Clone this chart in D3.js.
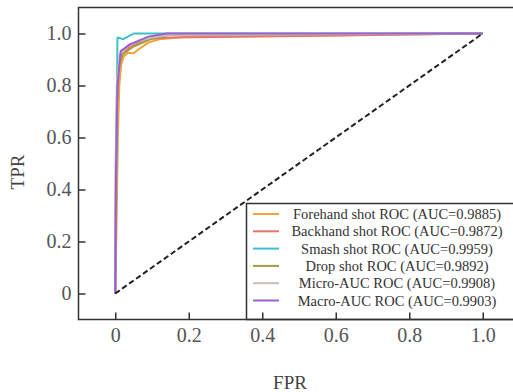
<!DOCTYPE html>
<html>
<head>
<meta charset="utf-8">
<script src="https://cdn.jsdelivr.net/npm/d3@7"></script>
<style>
  body { margin: 0; background: #fff; }
  svg { display: block; font-family: "Liberation Serif", "DejaVu Serif", serif; }
</style>
</head>
<body>
<div id="chart"></div>
<script>
// ROC curves, one per shot class plus micro / macro averages
const seriesNames = [
  'Forehand shot ROC (AUC=0.9885)',
  'Backhand shot ROC (AUC=0.9872)',
  'Smash shot ROC (AUC=0.9959)',
  'Drop shot ROC (AUC=0.9892)',
  'Micro-AUC ROC (AUC=0.9908)',
  'Macro-AUC ROC (AUC=0.9903)'
];
const seriesColors = ['#eea43a', '#e8756c', '#3fc0c9', '#a59c3e', '#cbbdba', '#9a5fd2'];

// [FPR, TPR] pairs
const forehand = [[0, 0], [0.004, 0.3], [0.007, 0.6], [0.011, 0.8], [0.016, 0.88], [0.023, 0.912],
  [0.035, 0.926], [0.05, 0.924], [0.066, 0.942], [0.09, 0.965], [0.12, 0.978], [0.2, 0.988], [0.45, 0.99], [1, 1]];
const backhand = [[0, 0], [0.002, 0.5], [0.005, 0.75], [0.01, 0.88], [0.02, 0.92], [0.04, 0.948],
  [0.07, 0.97], [0.1, 0.98], [0.15, 0.985], [0.5, 0.99], [1, 1]];
const smash = [[0, 0], [0.003, 0.5], [0.006, 0.985], [0.022, 0.978], [0.05, 1.0], [1, 1]];
const drop = [[0, 0], [0.002, 0.6], [0.008, 0.87], [0.02, 0.92], [0.05, 0.95], [0.1, 0.98],
  [0.15, 0.995], [1, 1]];
const micro = [[0, 0], [0.001, 0.45], [0.004, 0.8], [0.012, 0.92], [0.04, 0.96], [0.1, 0.985],
  [0.15, 0.995], [1, 1]];
const macro = [[0, 0], [0.002, 0.45], [0.006, 0.8], [0.015, 0.932], [0.04, 0.958], [0.09, 0.988],
  [0.14, 1.0], [1, 1]];
const seriesData = [forehand, backhand, smash, drop, micro, macro];
const chance = [[0, 0], [1, 1]];

const tickValues = [0, 0.2, 0.4, 0.6, 0.8, 1.0];

const width = 513, height = 392;
const svg = d3.select('#chart').append('svg')
  .attr('width', width)
  .attr('height', height);

const x = d3.scaleLinear().domain([-0.1, 1.1]).range([78.5, 519.5]);
const y = d3.scaleLinear().domain([-0.1, 1.1]).range([319.5, 7.5]);

const line = d3.line()
  .x(d => x(d[0]))
  .y(d => y(d[1]));

// curves
svg.selectAll('path.roc')
  .data(seriesData)
  .enter()
  .append('path')
  .attr('class', 'roc')
  .attr('d', line)
  .attr('fill', 'none')
  .attr('stroke', (d, i) => seriesColors[i])
  .attr('stroke-width', 2)
  .attr('stroke-linejoin', 'round');

// chance diagonal
svg.append('path')
  .attr('d', line(chance))
  .attr('fill', 'none')
  .attr('stroke', '#222')
  .attr('stroke-width', 2)
  .attr('stroke-dasharray', '5.5,3');

// legend box, runs down to the x axis and off the right edge
const legend = svg.append('g');
legend.append('rect')
  .attr('x', 246.5)
  .attr('y', 203.5)
  .attr('width', 300)
  .attr('height', y(-0.1) - 203.5)
  .attr('fill', '#fff')
  .attr('stroke', '#333')
  .attr('stroke-width', 1.5);

const rows = legend.selectAll('g.row')
  .data(seriesNames)
  .enter()
  .append('g')
  .attr('class', 'row')
  .attr('transform', (d, i) => `translate(0, ${214 + i * 17.3})`);

rows.append('line')
  .attr('x1', 253).attr('x2', 279)
  .attr('stroke', (d, i) => seriesColors[i])
  .attr('stroke-width', 2);

rows.append('text')
  .attr('x', 397)
  .attr('dy', '0.35em')
  .attr('text-anchor', 'middle')
  .attr('font-size', 14.5)
  .attr('fill', '#333')
  .text(d => d);

// axes, ticks point inward
const fmt = d => d === 0 ? '0' : d.toFixed(1);

const xAxis = svg.append('g')
  .attr('transform', `translate(0, ${y(-0.1)})`)
  .call(d3.axisBottom(x).tickValues(tickValues).tickFormat(fmt).tickSize(-7).tickPadding(8));

const yAxis = svg.append('g')
  .attr('transform', `translate(${x(-0.1)}, 0)`)
  .call(d3.axisLeft(y).tickValues(tickValues).tickFormat(fmt).tickSize(-7).tickPadding(7));

[xAxis, yAxis].forEach(g => {
  g.select('.domain').remove();
  g.selectAll('line').attr('stroke', '#333').attr('stroke-width', 1.5);
  g.selectAll('text')
    .attr('font-family', '"Liberation Serif", serif')
    .attr('font-size', 20)
    .attr('fill', '#555');
});

// frame: top, left, bottom
svg.append('path')
  .attr('d', `M${width},${y(1.1)}H${x(-0.1)}V${y(-0.1)}H${width}`)
  .attr('fill', 'none')
  .attr('stroke', '#333')
  .attr('stroke-width', 1.5);

// axis titles
svg.append('text')
  .attr('x', 290)
  .attr('y', 389)
  .attr('text-anchor', 'middle')
  .attr('font-size', 19)
  .attr('fill', '#444')
  .text('FPR');

svg.append('text')
  .attr('transform', 'translate(24, 172) rotate(-90)')
  .attr('text-anchor', 'middle')
  .attr('font-size', 19)
  .attr('fill', '#444')
  .text('TPR');
</script>
</body>
</html>
